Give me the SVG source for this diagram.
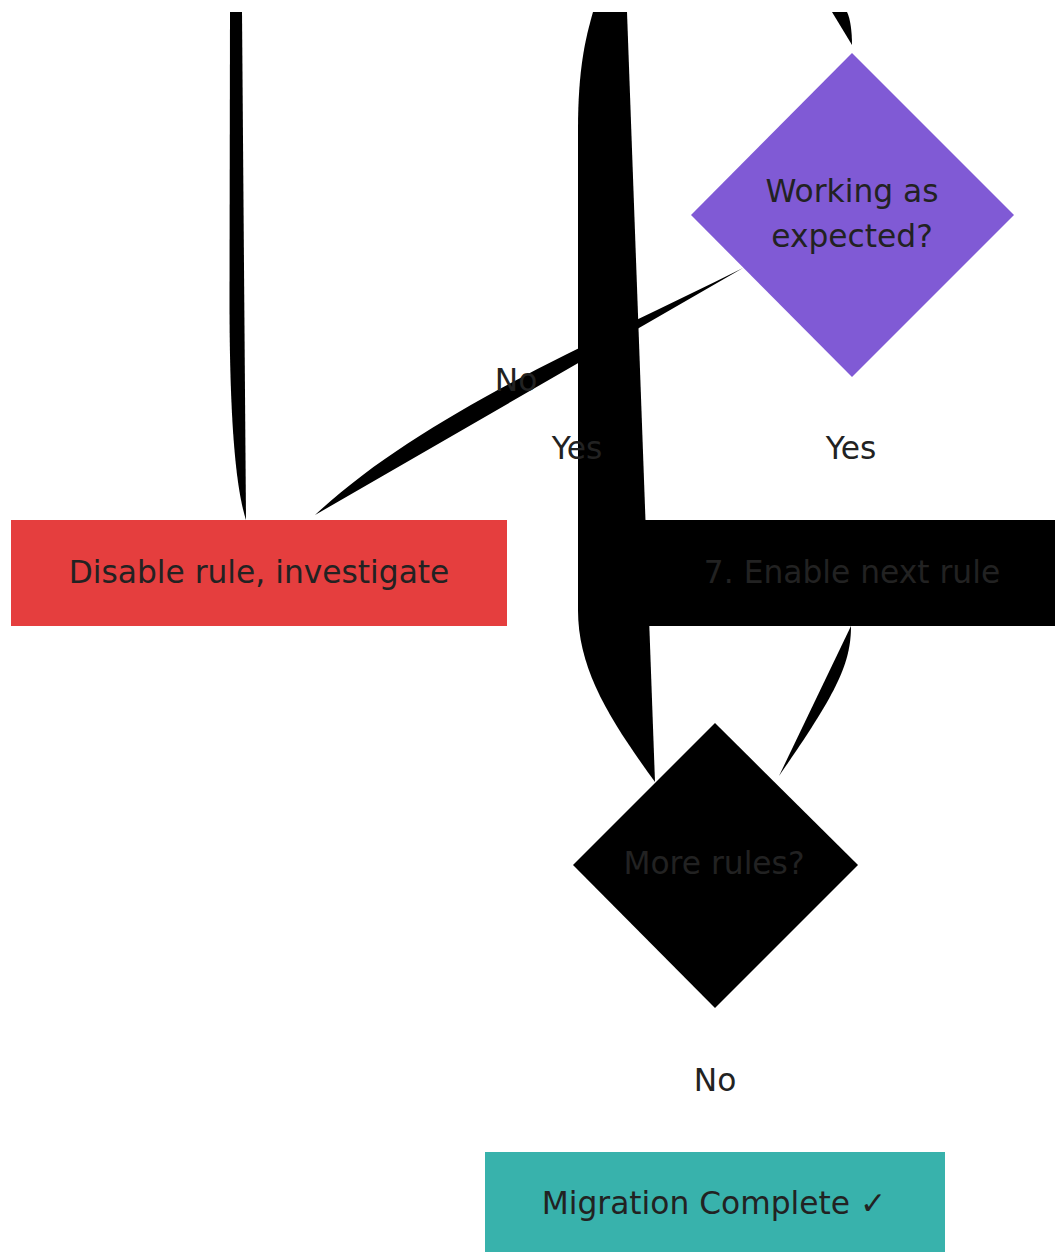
<svg xmlns="http://www.w3.org/2000/svg" width="1055" height="1252" viewBox="0 0 1055 1252">
<style>
text{font-family:"DejaVu Sans","Liberation Sans",sans-serif;font-size:31.3px;fill:#222222;text-anchor:middle}
.edge{fill:#000000;stroke:none}
</style>
<rect x="0" y="0" width="1055" height="1252" fill="#ffffff"/>
<g id="connectors">
<path class="edge" d="M230,12 L229.5,300 C229.5,440 238,495 246,520 L242,12 Z"/>
<path class="edge" d="M593,12 C585,40 578,70 578,130 L578,610 C578,670 610,720 655,782 L627,12 Z"/>
<path class="edge" d="M832,12 L852,45 C852,30 850,18 847,12 Z"/>
<path class="edge" d="M743,268 C600,340 425,412 315,515 Z"/>
<path class="edge" d="M851,626 C851,665 835,695 779,776 Z"/>
</g>
<g id="node-disable">
<rect x="11" y="520" width="496" height="106" fill="#e53e3e"/>
<text x="259" y="583">Disable rule, investigate</text>
</g>
<g id="node-working">
<polygon points="852,53 1014,215 852,377 691,215" fill="#805ad5"/>
<text x="852" y="202">Working as</text>
<text x="852" y="247">expected?</text>
</g>
<g id="node-enable">
<rect x="645" y="520" width="415" height="106" fill="#000000"/>
<text x="852" y="583">7. Enable next rule</text>
</g>
<g id="node-more">
<polygon points="715,723 858,865 715,1008 573,865" fill="#000000"/>
<text x="714" y="874">More rules?</text>
</g>
<g id="node-complete">
<rect x="485" y="1152" width="460" height="104" fill="#38b2ac"/>
<text x="714" y="1214">Migration Complete ✓</text>
</g>
<g id="edge-labels">
<text x="516" y="391">No</text>
<text x="577" y="459">Yes</text>
<text x="851" y="459">Yes</text>
<text x="715" y="1091">No</text>
</g>
</svg>
